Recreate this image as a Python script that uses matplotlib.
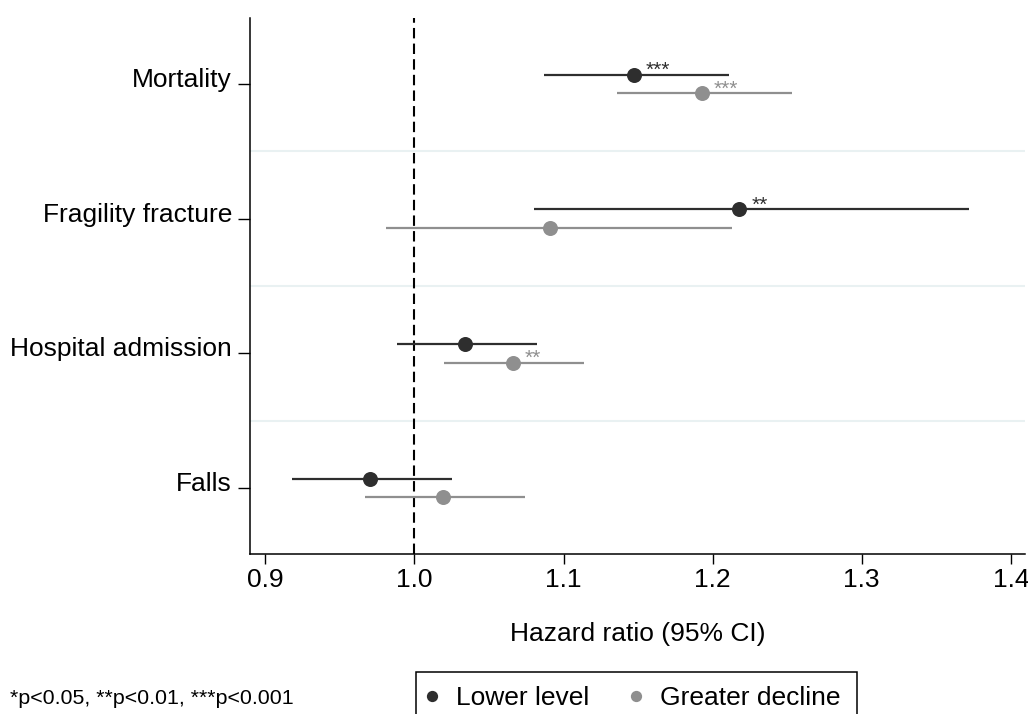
"""Hazard ratios (95% CI) for lower level vs greater decline, by outcome."""
import numpy as np
import matplotlib
matplotlib.use("Agg")
import matplotlib.pyplot as plt
import matplotlib.transforms as mtransforms
from matplotlib.patches import Rectangle

plt.rcParams["font.family"] = ["Liberation Sans", "DejaVu Sans"]

# ---------------------------------------------------------------------------
# data
# ---------------------------------------------------------------------------
outcomes = ["Mortality", "Fragility fracture", "Hospital admission", "Falls"]

lower_hr = [1.147, 1.218, 1.034, 0.970]
lower_lo = [1.087, 1.080, 0.988, 0.918]
lower_hi = [1.211, 1.372, 1.082, 1.025]
lower_stars = ["***", "**", "", ""]

decline_hr = [1.193, 1.091, 1.066, 1.019]
decline_lo = [1.136, 0.981, 1.020, 0.967]
decline_hi = [1.253, 1.213, 1.114, 1.074]
decline_stars = ["***", "", "**", ""]

x_ticks = [0.9, 1.0, 1.1, 1.2, 1.3, 1.4]

DARK = "#2e2e2e"
GREY = "#8f8f8f"
SEP = "#e9f1f2"

fig = plt.figure(figsize=(10.28, 7.14), dpi=100)
ax = fig.add_axes([250 / 1028, 1 - 554 / 714, 775 / 1028, 536 / 714])

ypos = np.arange(len(outcomes), 0, -1).astype(float)   # 4,3,2,1
off = 0.07

# separators between outcome groups
for ys in (ypos[:-1] + ypos[1:]) / 2:
    ax.axhline(ys, color=SEP, lw=1.5, zorder=0)

ax.axvline(1.0, color="black", lw=1.5, ls=(0, (5, 2.5)), zorder=1)

series = [
    (lower_hr, lower_lo, lower_hi, lower_stars, DARK, +off, "Lower level"),
    (decline_hr, decline_lo, decline_hi, decline_stars, GREY, -off, "Greater decline"),
]
for hr, lo, hi, stars, col, dy, lab in series:
    yy = ypos + dy
    ax.hlines(yy, lo, hi, color=col, lw=1.6, zorder=2)
    ax.plot(hr, yy, "o", color=col, ms=10.8, mec="none", zorder=3, label=lab)
    for xv, yv, s in zip(hr, yy, stars):
        if s:
            ax.annotate(s, (xv, yv), xytext=(8.5, 3), textcoords="offset points",
                        ha="left", va="center", fontsize=15, color=col)

ax.set_xlim(0.8897, 1.4095)
ax.set_ylim(0.51, 4.49)
ax.set_xticks(x_ticks)
ax.set_xticklabels([f"{t:.1f}" for t in x_ticks])
ax.set_yticks(ypos)
ax.set_yticklabels(outcomes)
ax.tick_params(axis="x", length=7.2, width=1, pad=3, labelsize=19)
ax.tick_params(axis="y", length=8.6, width=1, pad=4.3, labelsize=19)

# Stata puts the category label on the tick's baseline, not centred on it
shift = mtransforms.ScaledTranslation(0, -2.1 / 72, fig.dpi_scale_trans)
for t in ax.get_yticklabels():
    t.set_va("baseline")
    t.set_transform(t.get_transform() + shift)

for s in ("top", "right"):
    ax.spines[s].set_visible(False)
for s in ("left", "bottom"):
    ax.spines[s].set_linewidth(1.1)

ax.set_xlabel("Hazard ratio (95% CI)", fontsize=19)
ax.xaxis.set_label_coords(0.5, (554 - 634) / 536)
ax.xaxis.label.set_va("center")

fig.text(10 / 1028, 1 - 699 / 714, "*p<0.05, **p<0.01, ***p<0.001",
         fontsize=15.4, ha="left", va="center")

# legend box runs off the bottom edge, as in the original
fig.add_artist(Rectangle((416 / 1028, 1 - 745 / 714), 441 / 1028, 73 / 714,
                         transform=fig.transFigure, fill=False,
                         ec="black", lw=1.1))
fig.legend(loc="center left", bbox_to_anchor=(423.8 / 1028, 1 - 698 / 714),
           ncol=2, frameon=False, fontsize=19, borderpad=0, borderaxespad=0,
           handlelength=0.6, handletextpad=0.62, columnspacing=1.47,
           markerscale=0.75)

fig.savefig("out.png", dpi=100)
